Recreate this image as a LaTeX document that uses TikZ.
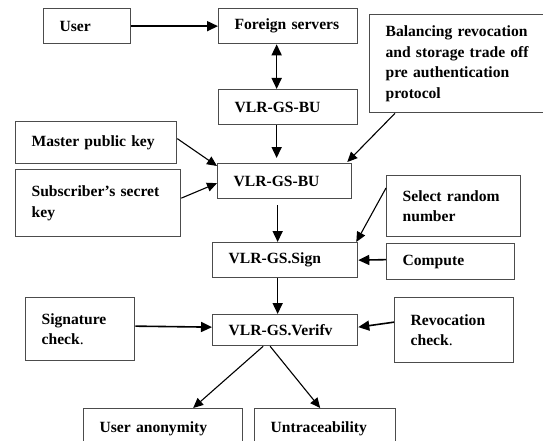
\documentclass[tikz,border=0pt]{standalone}
\usepackage{fontspec}
\setmainfont{Liberation Serif}
\usepackage{tikz}
\usetikzlibrary{arrows.meta, positioning}

\begin{document}
\begin{tikzpicture}[x=1pt, y=-1pt,
		box/.style={draw=black!70, line width=1.3pt, anchor=north west, align=left,
			inner xsep=16pt, inner ysep=0pt,
			font=\fontsize{15.6}{20.7}\selectfont\bfseries},
		flow/.style={line width=1.6pt, -{Triangle[length=11pt,width=10pt]}},
		link/.style={line width=1.1pt, -{Triangle[length=10pt,width=9pt]}}]
	\useasboundingbox (0,0) rectangle (543,441);
	\clip (0,0) rectangle (543,441);
	
	\node[box, minimum height=35, text width=55] (user) at (43,8) {User};
	\node[box, minimum height=35, text width=107] (foreign) at (218,8) {Foreign servers};
	\node[box, minimum height=98, text width=144] (bal) at (369,14) {Balancing revocation\\ and storage trade off\\ pre authentication\\ protocol};
	\node[box, minimum height=35, text width=107] (bu1) at (218,89) {VLR-GS-BU};
	\node[box, minimum height=42, text width=129] (mpk) at (15,121) {Master public key};
	\node[box, minimum height=67, text width=133] (ssk) at (15,169) {Subscriber’s secret\\ key};
	\node[box, minimum height=35, text width=102] (bu2) at (217,163) {VLR-GS-BU};
	\node[box, minimum height=61, text width=102] (rand) at (386,175) {Select random\\ number};
	\node[box, minimum height=35, text width=113] (sign) at (212,242) {VLR-GS.Sign};
	\node[box, minimum height=36, text width=96] (comp) at (386,243) {Compute};
	\node[box, minimum height=63, text width=77] (sigchk) at (25,297) {Signature\\ check{\mdseries.}};
	\node[box, minimum height=31, text width=113] (verify) at (212,314) {VLR-GS.Verifv};
	\node[box, minimum height=65, text width=87] (revchk) at (394,297) {Revocation\\ check{\mdseries.}};
	\node[box, minimum height=40, text width=127] (anon) at (83,408) {User anonymity};
	\node[box, minimum height=40, text width=109] (untrace) at (254,408) {Untraceability};
	
	\draw[flow] (user.east) -- (foreign.west);
	\draw[flow, {Triangle[length=11pt,width=10pt]}-{Triangle[length=11pt,width=10pt]}] ([xshift=-11.5pt]foreign.south) -- ([xshift=-11.5pt]bu1.north);
	\draw[flow] ([xshift=-11.5pt]bu1.south) -- ([xshift=-8pt,yshift=5pt]bu2.north);
	\draw[link] ([xshift=26pt]bal.south west) -- ([xshift=-5pt,yshift=1pt]bu2.north east);
	\draw[link] ([yshift=4pt]mpk.east) -- ([yshift=-3pt]bu2.north west);
	\draw[link] ([yshift=5pt]ssk.east) -- ([yshift=-2pt]bu2.west);
	\draw[flow] ([xshift=-7pt,yshift=-6pt]bu2.south) -- ([xshift=-7.5pt]sign.north);
	\draw[link] ([yshift=-13pt]rand.north west) -- ([xshift=-2pt]sign.north east);
	\draw[flow] ([yshift=2pt]comp.west) -- (sign.east);
	\draw[flow] ([xshift=-7.5pt]sign.south) -- ([xshift=-7.5pt]verify.north);
	\draw[flow] ([yshift=3pt]sigchk.east) -- ([yshift=3pt]verify.west);
	\draw[flow] ([yshift=8pt]revchk.west) -- ([yshift=3pt]verify.east);
	\draw[link] ([xshift=-22pt]verify.south) -- ([xshift=30pt]anon.north);
	\draw[link] ([xshift=-15pt]verify.south) -- ([xshift=-5pt]untrace.north);
\end{tikzpicture}
\end{document}
